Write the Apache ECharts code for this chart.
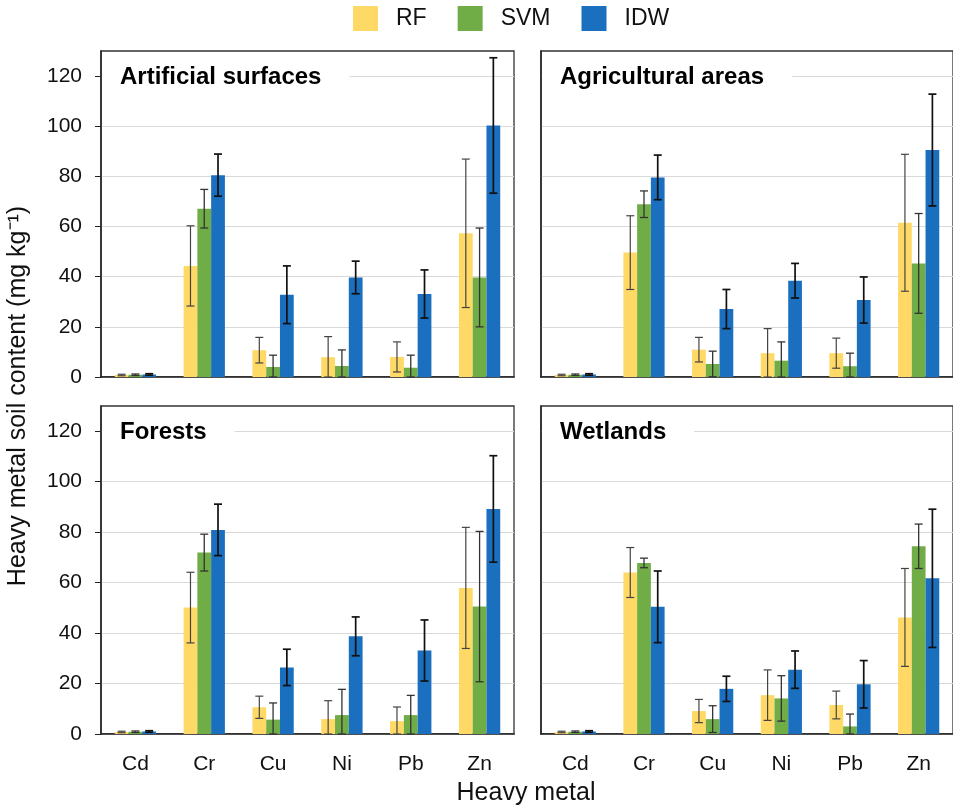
<!DOCTYPE html>
<html>
<head>
<meta charset="utf-8">
<script src="https://cdn.jsdelivr.net/npm/echarts@6/dist/echarts.min.js"></script>
<style>
  html, body { margin: 0; padding: 0; background: #fff; }
  #chart { width: 953px; height: 810px; }
</style>
</head>
<body>
<div id="chart"></div>
<script>
// categories and panels
const metals = ['Cd', 'Cr', 'Cu', 'Ni', 'Pb', 'Zn']
const panelNames = ['Artificial surfaces', 'Agricultural areas', 'Forests', 'Wetlands']
const methods = ['RF', 'SVM', 'IDW']
const yTicks = [0, 20, 40, 60, 80, 100, 120]

// mean values, one row per panel (same order as panelNames)
const rfMean = [
    [0.8, 44.3, 10.7, 7.9, 8.0, 57.3],
    [0.8, 49.6, 10.9, 9.5, 9.5, 61.5],
    [0.8, 50.1, 10.6, 5.9, 5.1, 57.9],
    [0.8, 64.0, 9.1, 15.4, 11.5, 46.2]
]
const svmMean = [
    [0.9, 67.1, 4.0, 4.4, 3.7, 39.7],
    [0.9, 68.9, 5.2, 6.5, 4.3, 45.3],
    [0.9, 71.9, 5.7, 7.5, 7.5, 50.5],
    [0.9, 67.8, 5.9, 14.1, 3.0, 74.4]
]
const idwMean = [
    [1.0, 80.5, 32.8, 39.7, 33.1, 100.3],
    [1.0, 79.6, 27.1, 38.4, 30.7, 90.5],
    [1.0, 80.9, 26.4, 38.7, 33.1, 89.2],
    [1.0, 50.4, 17.9, 25.5, 19.7, 61.7]
]

// error bar half-lengths
const rfErr = [
    [0.3, 16.0, 5.1, 8.2, 6.0, 29.6],
    [0.3, 14.7, 4.9, 9.8, 6.0, 27.3],
    [0.3, 14.0, 4.4, 7.3, 5.6, 24.0],
    [0.3, 9.9, 4.6, 10.0, 5.5, 19.4]
]
const svmErr = [
    [0.3, 7.7, 4.7, 6.4, 5.0, 19.7],
    [0.3, 5.3, 5.1, 7.5, 5.2, 19.9],
    [0.3, 7.3, 6.6, 10.2, 7.8, 29.8],
    [0.3, 1.9, 5.3, 9.0, 4.9, 8.8]
]
const idwErr = [
    [0.3, 8.4, 11.5, 6.5, 9.6, 27.0],
    [0.3, 8.9, 7.8, 6.9, 9.2, 22.3],
    [0.3, 10.2, 7.2, 7.7, 12.1, 21.1],
    [0.3, 14.2, 5.0, 7.4, 9.4, 27.4]
]

const colors = ['#FFD966', '#70AD47', '#1A6FBF']
const errColors = ['#444', '#333', '#111']
const errWidths = [1.2, 1.3, 1.7]
const FONT = '"Liberation Sans", Arial, sans-serif'

const means = [rfMean, svmMean, idwMean]
const errs = [rfErr, svmErr, idwErr]

// right-hand panels run past the canvas edge so their right border is hidden
const grids = [
    { left: 101, top: 51, width: 413, height: 326 },
    { left: 541, top: 51, width: 414, height: 326 },
    { left: 101, top: 406, width: 413, height: 328 },
    { left: 541, top: 406, width: 414, height: 328 }
]

function errorBar(slot) {
    return function (params, api) {
        const cat = api.value(0)
        const lo = api.coord([cat, api.value(1)])
        const hi = api.coord([cat, api.value(2)])
        const band = api.size([1, 0])[0]
        const barW = band * 0.6 / 3
        const x = hi[0] + (slot - 1) * barW
        const cap = 4
        const style = { stroke: errColors[slot], lineWidth: errWidths[slot] }
        return {
            type: 'group',
            children: [
                { type: 'line', shape: { x1: x, y1: hi[1], x2: x, y2: lo[1] }, style: style },
                { type: 'line', shape: { x1: x - cap, y1: hi[1], x2: x + cap, y2: hi[1] }, style: style },
                { type: 'line', shape: { x1: x - cap, y1: lo[1], x2: x + cap, y2: lo[1] }, style: style }
            ]
        }
    }
}

const xAxes = []
const yAxes = []
const series = []
const titles = []

grids.forEach(function (g, p) {
    const isLeft = p % 2 === 0
    const isBottom = p >= 2
    g.show = true
    g.borderColor = '#333'
    g.borderWidth = 1.3
    g.containLabel = false

    xAxes.push({
        type: 'category',
        gridIndex: p,
        data: metals,
        axisLine: { lineStyle: { color: '#222', width: 1.5 } },
        axisTick: { show: false },
        axisLabel: {
            show: isBottom,
            margin: 20,
            fontSize: 21,
            color: '#111',
            fontFamily: FONT
        }
    })
    yAxes.push({
        type: 'value',
        gridIndex: p,
        min: 0,
        max: 130,
        interval: 20,
        axisLine: { show: true, lineStyle: { color: '#222', width: 1.5 } },
        axisTick: {
            show: isLeft,
            length: 6,
            customValues: yTicks,
            lineStyle: { color: '#222' }
        },
        axisLabel: {
            show: isLeft,
            margin: 19,
            fontSize: 21,
            color: '#111',
            fontFamily: FONT,
            customValues: yTicks
        },
        splitLine: { show: true, lineStyle: { color: '#d9d9d9', width: 1 } }
    })

    methods.forEach(function (m, s) {
        series.push({
            name: m,
            type: 'bar',
            xAxisIndex: p,
            yAxisIndex: p,
            barGap: '0%',
            barCategoryGap: '40%',
            itemStyle: { color: colors[s] },
            data: means[s][p]
        })
    })
    methods.forEach(function (m, s) {
        series.push({
            type: 'custom',
            xAxisIndex: p,
            yAxisIndex: p,
            z: 5,
            silent: true,
            renderItem: errorBar(s),
            encode: { x: 0, y: [1, 2] },
            data: means[s][p].map(function (v, i) {
                const e = errs[s][p][i]
                return [i, Math.max(v - e, 0), v + e]
            })
        })
    })

    titles.push({
        text: panelNames[p],
        left: g.left + 1,
        top: g.top + 11,
        padding: [3, 28, 3, 18],
        backgroundColor: '#fff',
        textStyle: {
            fontSize: 24,
            fontWeight: 'bold',
            color: '#000',
            fontFamily: FONT
        }
    })
})

const chart = echarts.init(document.getElementById('chart'))
chart.setOption({
    animation: false,
    backgroundColor: '#fff',
    title: titles,
    legend: {
        data: methods,
        left: 348,
        top: 1,
        icon: 'rect',
        itemWidth: 25,
        itemHeight: 25,
        itemGap: 31,
        textStyle: {
            fontSize: 23,
            color: '#111',
            fontFamily: FONT,
            padding: [0, 0, 0, 13]
        }
    },
    grid: grids,
    xAxis: xAxes,
    yAxis: yAxes,
    series: series,
    graphic: [
        {
            type: 'text',
            x: 18,
            y: 396,
            rotation: Math.PI / 2,
            style: {
                text: 'Heavy metal soil content (mg kg⁻¹)',
                fontSize: 25,
                fontFamily: FONT,
                fill: '#111',
                align: 'center',
                verticalAlign: 'middle',
                textAlign: 'center',
                textVerticalAlign: 'middle'
            }
        },
        {
            type: 'text',
            x: 526,
            y: 793,
            style: {
                text: 'Heavy metal',
                fontSize: 25,
                fontFamily: FONT,
                fill: '#111',
                align: 'center',
                verticalAlign: 'middle',
                textAlign: 'center',
                textVerticalAlign: 'middle'
            }
        }
    ]
})
</script>
</body>
</html>
